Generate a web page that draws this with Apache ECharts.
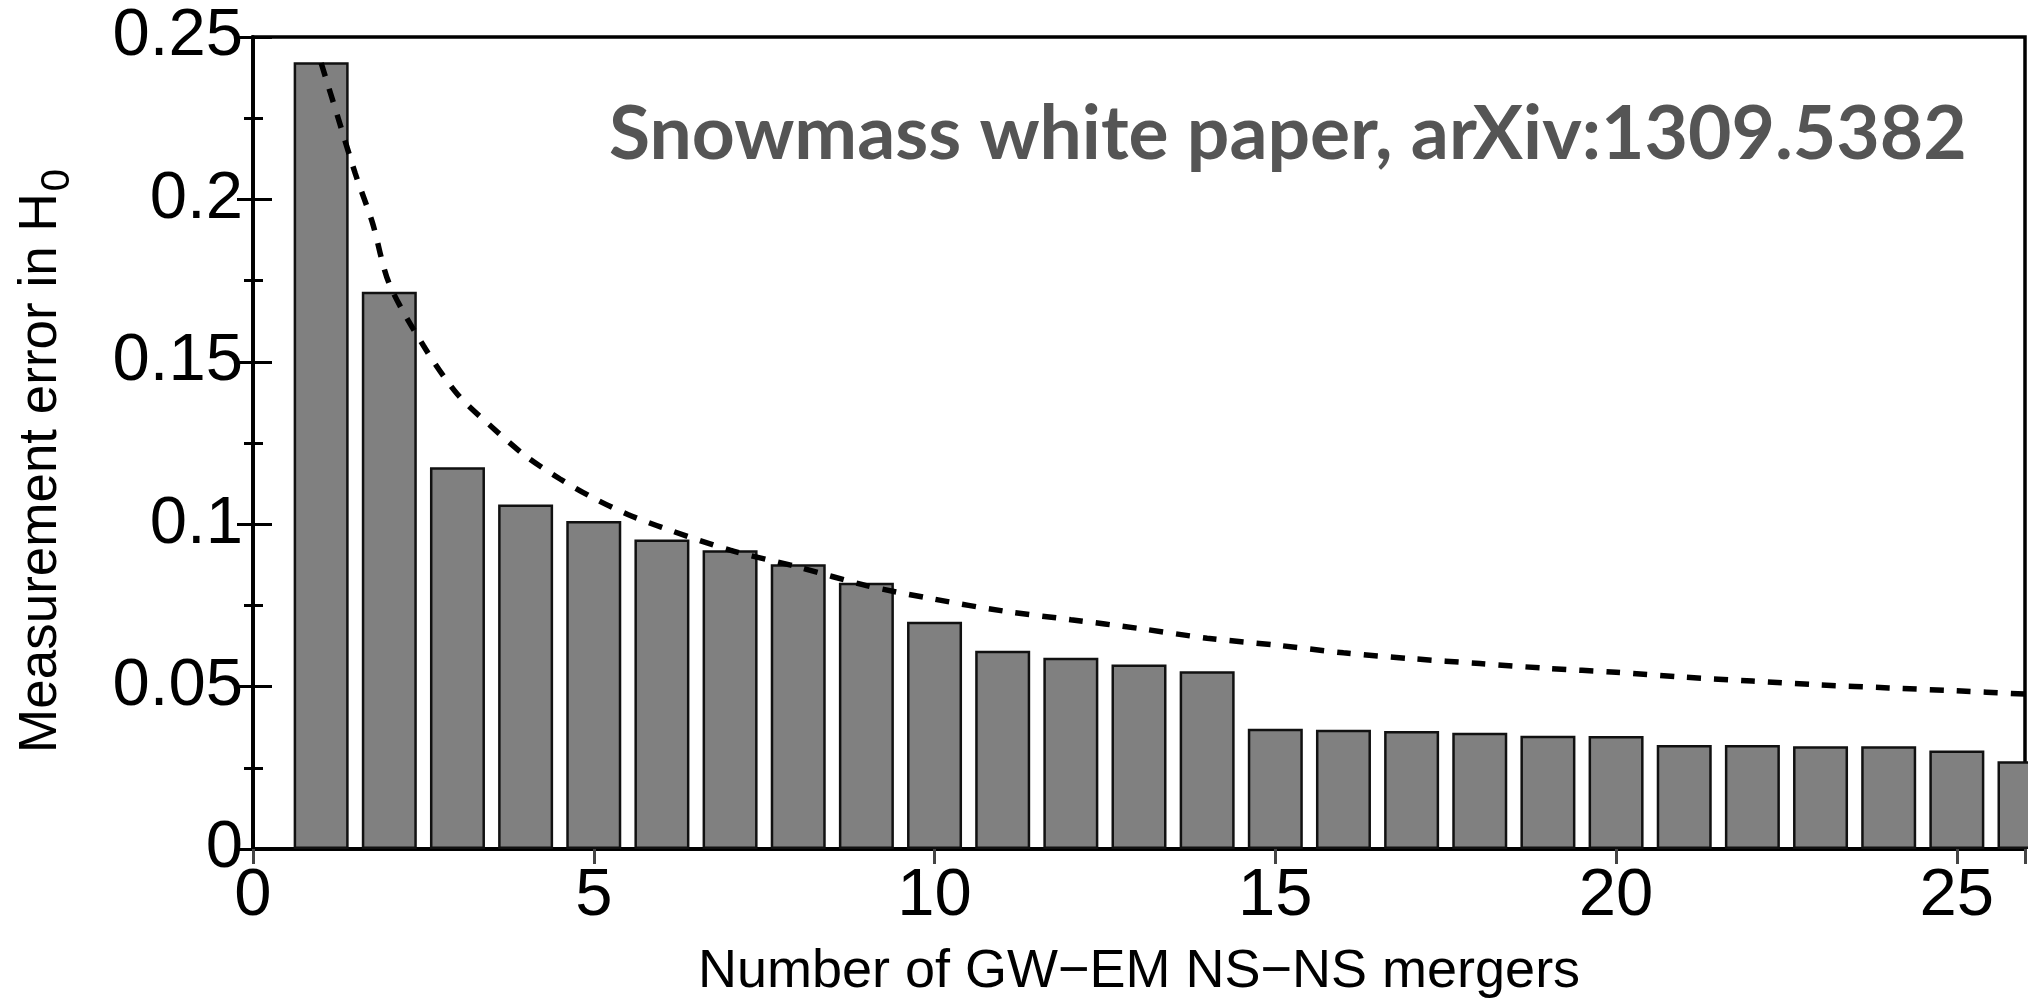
<!DOCTYPE html>
<html><head><meta charset="utf-8">
<script src="https://cdn.jsdelivr.net/npm/echarts@6/dist/echarts.min.js"></script>
<style>html,body{margin:0;padding:0;background:#fff}#c{width:2028px;height:1004px}</style>
</head><body><div id="c"></div>
<script>
// ---- data ----
const mergerCounts = [1,2,3,4,5,6,7,8,9,10,11,12,13,14,15,16,17,18,19,20,21,22,23,24,25,26];
const h0Errors = [0.2422,0.1716,0.1175,0.1061,0.1010,0.0953,0.0920,0.0877,0.0820,0.0700,0.0610,0.0589,0.0568,0.0547,0.0370,0.0367,0.0363,0.0358,0.0349,0.0348,0.0320,0.0320,0.0316,0.0316,0.0303,0.0270];
const curveCounts = [1,1.25,1.5,1.75,2,2.5,3,3.5,4,4.5,5,5.5,6,7,8,9,10,11,12,13,14,15,16,17,18,19,20,21,22,23,24,25,26];
const curveErrors = [0.242,0.225,0.208,0.193,0.174,0.155,0.140,0.130,0.121,0.114,0.108,0.103,0.099,0.092,0.0868,0.0811,0.0769,0.0733,0.0706,0.0679,0.0649,0.0628,0.0604,0.0586,0.0571,0.0556,0.0544,0.0529,0.0517,0.0505,0.0496,0.0487,0.0477];
const xTickLabels = [0,5,10,15,20,25];
const yTickLabels = [0,0.05,0.1,0.15,0.2,0.25];
const xTitle = 'Number of GW\u2212EM NS\u2212NS mergers';
const yTitleMain = 'Measurement error in H';
const yTitleSub = '0';
const annotation = 'Snowmass white paper, arXiv:1309.5382';

const barData = mergerCounts.map((n, i) => [n, h0Errors[i]]);
const curveData = curveCounts.map((n, i) => [n, curveErrors[i]]);

const FONT = 'Liberation Sans';
const chart = echarts.init(document.getElementById('c'), null, {renderer: 'canvas'});
const axisLine = {show: true, lineStyle: {color: '#000', width: 3.5}};
const tickStyle = {color: '#000', width: 3};

chart.setOption({
  animation: false,
  backgroundColor: '#fff',
  grid: {left: 253, right: 3, top: 37, bottom: 135, containLabel: false,
         show: true, borderColor: '#000', borderWidth: 3.5, backgroundColor: 'transparent'},
  xAxis: [{
    type: 'value', min: 0, max: 26, interval: 5, position: 'bottom',
    axisLine: axisLine,
    axisTick: {show: true, inside: true, length: 15, lineStyle: tickStyle},
    splitLine: {show: false},
    axisLabel: {
      show: true, margin: 14, fontFamily: FONT, fontSize: 67, color: '#000',
      showMaxLabel: false,
      formatter: v => xTickLabels.includes(v) ? String(v) : ''
    },
    name: xTitle, nameLocation: 'middle', nameGap: 96,
    nameTextStyle: {fontFamily: FONT, fontSize: 54, color: '#000'}
  }, {
    type: 'value', min: 0, max: 26, interval: 5, position: 'top',
    axisLine: axisLine,
    axisTick: {show: true, inside: true, length: 15, lineStyle: {color: '#444', width: 3}},
    splitLine: {show: false}, axisLabel: {show: false}
  }],
  yAxis: [{
    type: 'value', min: 0, max: 0.25, interval: 0.05, position: 'left',
    axisLine: axisLine,
    axisTick: {show: true, inside: true, length: 19, lineStyle: tickStyle},
    minorTick: {show: true, splitNumber: 2, length: 10, lineStyle: tickStyle},
    splitLine: {show: false},
    axisLabel: {
      show: true, margin: 10, fontFamily: FONT, fontSize: 67, color: '#000',
      padding: [10, 0, 0, 0],
      formatter: v => {
        const m = yTickLabels.find(t => Math.abs(t - v) < 1e-9);
        return m === undefined ? '' : String(m);
      }
    },
    name: yTitleMain + '{sub|' + yTitleSub + '}',
    nameLocation: 'middle', nameGap: 175, nameRotate: 90,
    nameTextStyle: {
      fontFamily: FONT, fontSize: 53, color: '#000', padding: [0, 36, 0, 0],
      rich: {sub: {fontFamily: FONT, fontSize: 40, color: '#000', padding: [34, 0, 0, 2]}}
    }
  }, {
    type: 'value', min: 0, max: 0.25, interval: 0.05, position: 'right',
    axisLine: axisLine,
    axisTick: {show: true, inside: true, length: 16, lineStyle: tickStyle},
    minorTick: {show: true, splitNumber: 2, length: 9, lineStyle: tickStyle},
    splitLine: {show: false}, axisLabel: {show: false}
  }],
  series: [{
    type: 'bar', xAxisIndex: 0, yAxisIndex: 0,
    data: barData, barWidth: 55, clip: true,
    itemStyle: {color: '#808080', borderColor: '#111', borderWidth: 2.5},
    z: 2
  }, {
    type: 'line', xAxisIndex: 0, yAxisIndex: 0,
    data: curveData, smooth: 0.3, symbol: 'none', clip: true,
    lineStyle: {color: '#000', width: 5.5, type: [14, 13], cap: 'butt'},
    z: 3
  }],
  graphic: [{
    type: 'text', left: 609, top: 97, z: 10,
    style: {text: annotation, font: 'bold 75px Lato', fill: '#555555'}
  }]
});
</script>
</body></html>
